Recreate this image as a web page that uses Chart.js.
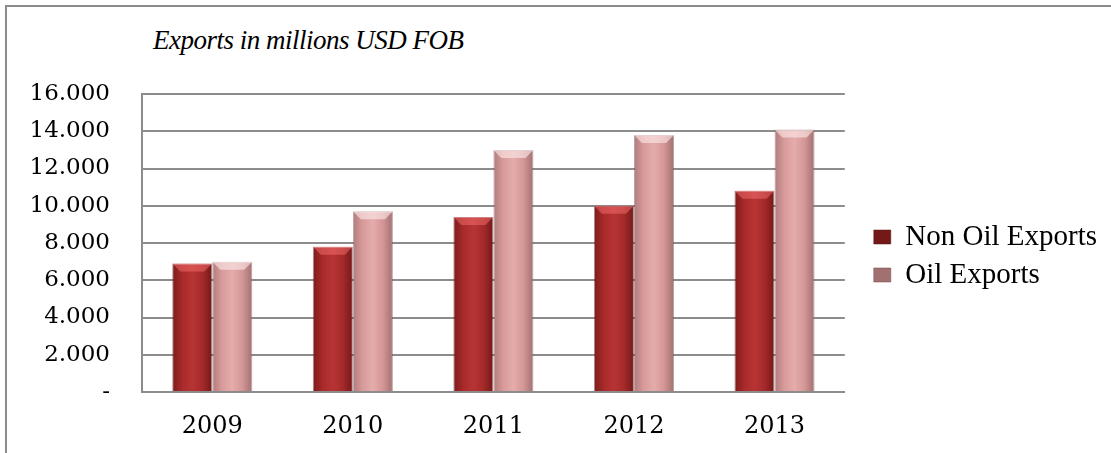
<!DOCTYPE html>
<html>
<head>
<meta charset="utf-8">
<script src="https://cdn.jsdelivr.net/npm/chart.js@4.4.1/dist/chart.umd.min.js"></script>
<style>
  body { margin: 0; background: #fff; }
  #wrap { position: relative; width: 1111px; height: 453px; overflow: hidden; }
  #frame { position: absolute; left: 5px; top: 5px; width: 1200px; height: 600px;
           border-left: 2px solid #8c8c8c; border-top: 2px solid #8c8c8c; }
  #title { position: absolute; left: 153px; top: 27px; font: italic 27px "Liberation Serif", serif;
           letter-spacing: -0.5px; line-height: 1; color: #000; white-space: nowrap; }
  canvas { position: absolute; left: 0; top: 0; }
</style>
</head>
<body>
<div id="wrap">
  <div id="frame"></div>
  <div id="title">Exports in millions USD FOB</div>
  <canvas id="exportsChart" width="1111" height="453"></canvas>
</div>
<script>
const years = ['2009', '2010', '2011', '2012', '2013'];
const nonOilExports = [6900, 7800, 9400, 10000, 10800];
const oilExports = [7000, 9700, 13000, 13800, 14100];
const yTickLabels = ['-', '2.000', '4.000', '6.000', '8.000', '10.000', '12.000', '14.000', '16.000'];

const catPct = 0.57;

// horizontal shading so the bars look rounded like the original
function barShade(stops, flat) {
    return function (context) {
        const chart = context.chart;
        if (context.dataIndex === undefined || !chart.chartArea) {
            return flat;
        }
        const xs = chart.scales.x;
        const centre = xs.getPixelForValue(context.dataIndex);
        const barW = (xs.width / years.length) * catPct / 2;
        const left = context.datasetIndex === 0 ? centre - barW : centre;
        const g = chart.ctx.createLinearGradient(left, 0, left + barW, 0);
        stops.forEach((c, i) => g.addColorStop(i / (stops.length - 1), c));
        return g;
    };
}

// light bevel at the top of every bar
const bevelPlugin = {
    id: 'bevel',
    afterDatasetsDraw(chart) {
        const ctx = chart.ctx;
        chart.data.datasets.forEach((ds, di) => {
            const meta = chart.getDatasetMeta(di);
            meta.data.forEach((bar) => {
                const l = bar.x - bar.width / 2;
                const r = bar.x + bar.width / 2;
                const t = bar.y;
                const d = 8;
                ctx.save();
                ctx.fillStyle = di === 0 ? 'rgba(255,120,120,0.45)' : 'rgba(255,235,235,0.6)';
                ctx.beginPath();
                ctx.moveTo(l, t);
                ctx.lineTo(r, t);
                ctx.lineTo(r - d, t + d);
                ctx.lineTo(l + d, t + d);
                ctx.closePath();
                ctx.fill();
                ctx.restore();
            });
        });
    }
};

const ctx = document.getElementById('exportsChart');

new Chart(ctx, {
    type: 'bar',
    data: {
        labels: years,
        datasets: [
            {
                label: 'Non Oil Exports',
                data: nonOilExports,
                backgroundColor: barShade(['#7e1b1b', '#a82a2a', '#b83434', '#a52a2a', '#741818'], '#a52a2a'),
                borderColor: 'rgba(90,20,20,0.5)',
                borderWidth: 1,
                barPercentage: 1,
                categoryPercentage: catPct,
            },
            {
                label: 'Oil Exports',
                data: oilExports,
                backgroundColor: barShade(['#b07c7c', '#d99b9b', '#e4acac', '#d49696', '#a27070'], '#d99a9a'),
                borderColor: 'rgba(120,70,70,0.5)',
                borderWidth: 1,
                barPercentage: 1,
                categoryPercentage: catPct,
            },
        ],
    },
    options: {
        responsive: false,
        animation: false,
        layout: {
            padding: { left: 30, top: 94, bottom: 13, right: 4 },
        },
        plugins: {
            title: { display: false },
            tooltip: { enabled: false },
            legend: {
                position: 'right',
                fullSize: false,
                maxWidth: 400,
                // empty title only pushes the two entries a little lower
                title: { display: true, text: '', padding: 8, font: { size: 10, lineHeight: 1 } },
                labels: {
                    color: '#000',
                    boxWidth: 17,
                    boxHeight: 14,
                    padding: 9,
                    font: { family: '"Liberation Serif", serif', size: 29 },
                },
            },
        },
        scales: {
            x: {
                grid: { display: false, drawTicks: false },
                border: { color: '#8c8c8c', width: 2 },
                ticks: {
                    color: '#000',
                    padding: 20,
                    font: { family: '"DejaVu Serif", serif', size: 24 },
                },
                afterFit: (scale) => { scale.height = 48; },
            },
            y: {
                min: 0,
                max: 16000,
                grid: { color: '#8c8c8c', lineWidth: 2, drawTicks: false },
                border: { color: '#8c8c8c', width: 2 },
                ticks: {
                    stepSize: 2000,
                    color: '#000',
                    padding: 32,
                    font: { family: '"DejaVu Serif", serif', size: 23 },
                    callback: (value, index) => yTickLabels[index],
                },
                afterFit: (scale) => { scale.width = 112; },
            },
            spacer: {
                type: 'linear',
                position: 'right',
                grid: { display: false, drawTicks: false },
                border: { display: false },
                ticks: { display: false },
                afterFit: (scale) => { scale.width = 20; },
            },
        },
    },
    plugins: [bevelPlugin],
});
</script>
</body>
</html>
